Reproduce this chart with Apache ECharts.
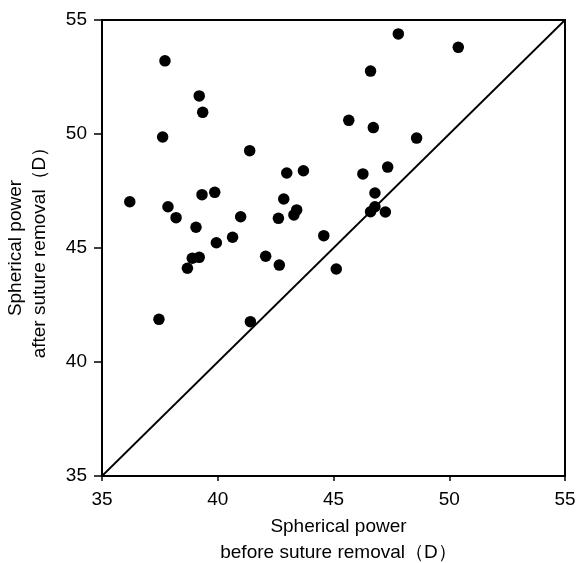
<!DOCTYPE html>
<html><head><meta charset="utf-8">
<script src="https://cdn.jsdelivr.net/npm/echarts@6/dist/echarts.min.js"></script>
<style>html,body{margin:0;padding:0;background:#fff}#c{width:580px;height:563px}</style>
</head><body><div id="c"></div>
<script>
const beforeRemoval = [37.72,39.2,39.35,37.62,41.38,42.98,43.7,36.2,37.85,39.32,39.87,38.2,39.06,40.99,42.85,42.62,43.41,43.29,39.94,40.64,44.58,38.9,39.2,38.69,42.07,42.66,45.12,37.46,41.41,47.8,50.39,46.6,45.66,46.72,48.59,47.34,46.27,46.79,46.79,46.6,47.24];
const afterRemoval  = [53.21,51.67,50.95,49.87,49.27,48.29,48.39,47.03,46.81,47.34,47.44,46.33,45.91,46.37,47.15,46.30,46.67,46.45,45.23,45.47,45.54,44.55,44.59,44.11,44.64,44.25,44.08,41.87,41.77,54.39,53.8,52.76,50.6,50.28,49.82,48.55,48.25,47.41,46.81,46.59,46.58];
const identityLine = [[35,35],[55,55]];
const xName = 'Spherical power\nbefore suture removal（D）';
const yName = 'Spherical power\nafter suture removal（D）';

const pts = beforeRemoval.map((x,i)=>[x, afterRemoval[i]]);
const font = 'Liberation Sans, Arial, sans-serif';
const chart = echarts.init(document.getElementById('c'));
chart.setOption({
  animation:false,
  grid:{left:102,right:15,top:20,bottom:87,show:true,containLabel:false,outerBoundsMode:'none',borderColor:'#000',borderWidth:2,backgroundColor:'transparent'},
  xAxis:{type:'value',min:35,max:55,interval:5,
    name:xName,nameLocation:'middle',nameGap:37,
    nameTextStyle:{color:'#000',fontSize:19,fontFamily:font,lineHeight:26,padding:[0,0,0,10]},
    axisLine:{lineStyle:{color:'#000',width:2}},
    axisTick:{show:true,length:5,lineStyle:{color:'#000',width:1.5}},
    axisLabel:{color:'#000',fontSize:19,fontFamily:font,margin:14},
    splitLine:{show:false}},
  yAxis:{type:'value',min:35,max:55,interval:5,
    name:yName,nameLocation:'middle',nameGap:50,nameRotate:90,
    nameTextStyle:{color:'#000',fontSize:19,fontFamily:font,lineHeight:24},
    axisLine:{lineStyle:{color:'#000',width:2}},
    axisTick:{show:true,length:8,lineStyle:{color:'#000',width:1.5}},
    axisLabel:{color:'#000',fontSize:19,fontFamily:font,margin:15},
    splitLine:{show:false}},
  series:[
    {type:'line',data:identityLine,symbol:'none',lineStyle:{color:'#000',width:1.8},silent:true,z:1},
    {type:'scatter',data:pts,symbol:'circle',symbolSize:11.5,itemStyle:{color:'#000',opacity:1},z:2}
  ]
});
</script></body></html>
